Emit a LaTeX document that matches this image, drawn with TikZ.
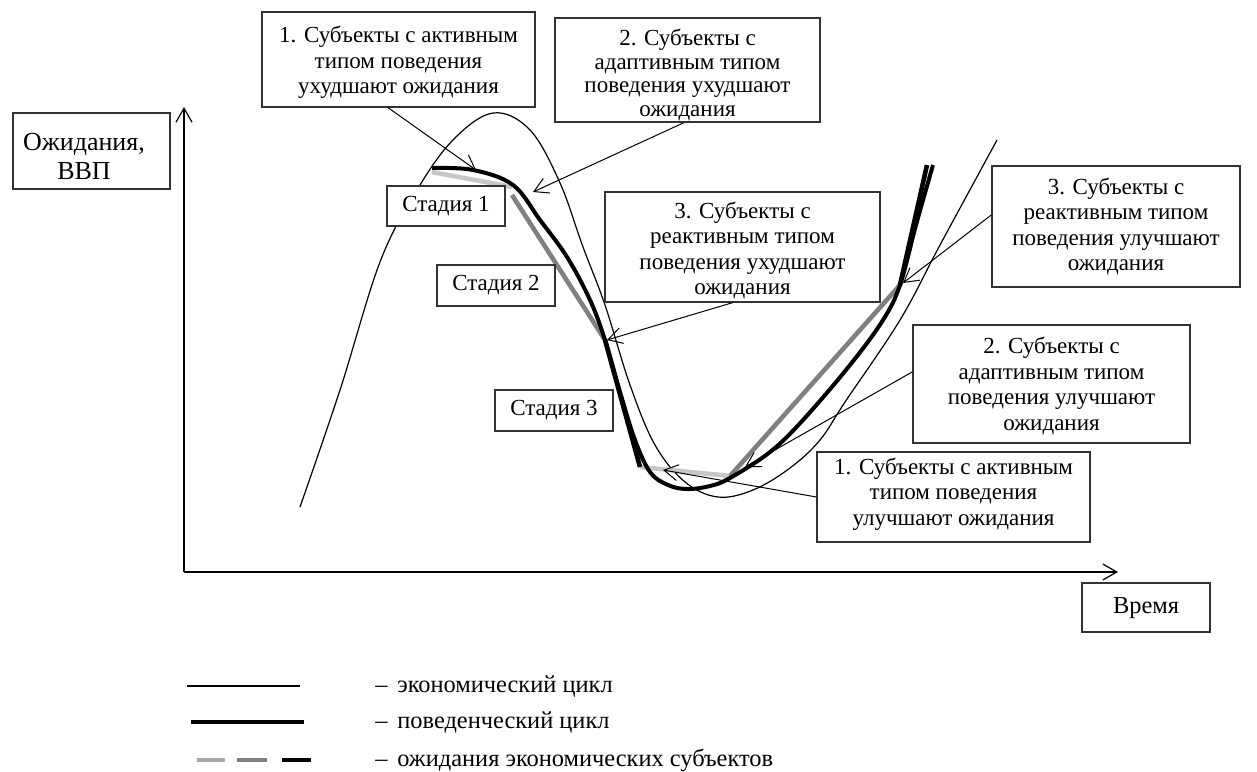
\documentclass[tikz,border=0pt]{standalone}
\usepackage{fontspec}
\setmainfont{Liberation Serif}
\usetikzlibrary{arrows.meta,calc}
\begin{document}
\begin{tikzpicture}[x=0.5pt,y=-0.5pt,
  box/.style={draw=black!80,line width=0.6pt,fill=white,inner sep=0pt},
  boxtext/.style={align=center,inner sep=0pt,font=\fontsize{11.5}{12.8}\selectfont},
  stage/.style={box,align=center,font=\fontsize{11.5}{12.8}\selectfont},
  econ/.style={line width=0.6pt},
  behav/.style={line width=2pt},
  expA/.style={line width=2.3pt,draw=black!22},
  expB/.style={line width=2.3pt,draw=black!50},
  expC/.style={line width=2.3pt,draw=black},
  conn/.style={line width=0.5pt,-{Straight Barb[length=7pt,width=8pt]}},
  axis/.style={line width=0.6pt,-{Straight Barb[length=7pt,width=8pt]}},
  legtext/.style={anchor=west,inner sep=0pt,font=\fontsize{12.2}{13}\selectfont}
]
\useasboundingbox (0,0) rectangle (1257,771);

% axes
\coordinate (O) at (184,572);
\coordinate (ytip) at (184,107);
\coordinate (xtip) at (1118,572);
\draw[axis] (O) -- (ytip);
\draw[axis] (O) -- (xtip);

% economic cycle
\draw[econ] plot[smooth,tension=0.6] coordinates {(300,507) (340,390) (380,262) (417,190) (453,140) (493,113) (530,130) (560,183) (583,247) (605,305) (630,385) (655,445) (685,482) (718,497) (753,490) (790,468) (820,440) (845,402) (900,320) (940,245) (997,140)};

% expectations
\draw[expA] (432,172) -- (512,187);
\draw[expA] (640,467) -- (730,476);
\draw[expB] (512,195) -- (605,340);
\draw[expB] (730,476) -- (900,285);
\draw[expC] (605,340) -- (640,467);
\draw[expC] (900,285) -- (927,165);

% behavioural cycle
\draw[behav] plot[smooth,tension=0.6] coordinates {(432,168) (473,170) (513,185) (540,220) (567,257) (590,300) (605,340) (620,392) (635,440) (650,472) (668,485) (687,489) (710,486) (730,478) (770,452) (803,420) (850,365) (883,320) (900,285) (916,225) (933,165)};

% boxes
\node[box,minimum width=78.5pt,minimum height=38pt] (BY) at (91.5,151) {};
\node[boxtext,font=\fontsize{13}{14.5}\selectfont] (BYt) at (84,156) {Ожидания,\\ВВП};
\node[box,minimum width=64pt,minimum height=24.5pt] (BT) at (1146,607.5) {};
\node[boxtext,font=\fontsize{12.2}{14}\selectfont] (BTt) at (1146,608) {Время};

\node[box,minimum width=136.5pt,minimum height=47.5pt] (B1) at (398.5,59.5) {};
\node[boxtext] (B1t) at (398.5,62.5) {1. Субъекты с активным\\типом поведения\\ухудшают ожидания};
\node[box,minimum width=132.5pt,minimum height=52pt] (B2) at (687.5,70) {};
\node[boxtext,font=\fontsize{11.5}{11.8}\selectfont] (B2t) at (687.5,75) {2. Субъекты с\\адаптивным типом\\поведения ухудшают\\ожидания};
\node[stage,minimum width=59pt,minimum height=20pt] (B3) at (446,206) {Стадия 1};
\node[stage,minimum width=59pt,minimum height=20.5pt] (B4) at (496,285.5) {Стадия 2};
\node[box,minimum width=137.5pt,minimum height=55pt] (B5) at (742.5,247) {};
\node[boxtext] (B5t) at (742.5,250.5) {3. Субъекты с\\реактивным типом\\поведения ухудшают\\ожидания};
\node[box,minimum width=124pt,minimum height=60.5pt] (B6) at (1116,226.5) {};
\node[boxtext] (B6t) at (1116,226.5) {3. Субъекты с\\реактивным типом\\поведения улучшают\\ожидания};
\node[stage,minimum width=59pt,minimum height=20.5pt] (B7) at (554,410.5) {Стадия 3};
\node[box,minimum width=138.5pt,minimum height=59pt] (B8) at (1051.5,384) {};
\node[boxtext] (B8t) at (1051.5,386) {2. Субъекты с\\адаптивным типом\\поведения улучшают\\ожидания};
\node[box,minimum width=136.5pt,minimum height=45pt] (B9) at (953.5,497) {};
\node[boxtext] (B9t) at (953.5,494) {1. Субъекты с активным\\типом поведения\\улучшают ожидания};

% connector targets
\coordinate (t1) at (476,170);
\coordinate (t2) at (533,192);
\coordinate (t3) at (607,340);
\coordinate (t4) at (903,283);
\coordinate (t5) at (745,467);
\coordinate (t6) at (663,470);

\draw[conn] ($(B1.south west)!0.4615!(B1.south east)$) -- (t1);
\draw[conn] ($(B2.south west)!0.487!(B2.south east)$) -- (t2);
\draw[conn] ($(B5.south west)!0.465!(B5.south east)$) -- (t3);
\draw[conn] ($(B6.north west)!0.405!(B6.south west)$) -- (t4);
\draw[conn] ($(B8.north west)!0.398!(B8.south west)$) -- (t5);
\draw[conn] (B9.west) -- (t6);

% legend
\draw[econ] (187,686) -- (300,686);
\draw[behav] (191,722) -- (304,722);
\draw[expA,draw=black!35] (197,760) -- (225,760);
\draw[expB] (237,760) -- (267,760);
\draw[expC] (282,760) -- (311,760);
\node[legtext] (L1) at (375,686) {–\hspace{0.4em}экономический цикл};
\node[legtext] (L2) at (375,722) {–\hspace{0.4em}поведенческий цикл};
\node[legtext] (L3) at (375,760) {–\hspace{0.4em}ожидания экономических субъектов};
\end{tikzpicture}
\end{document}
